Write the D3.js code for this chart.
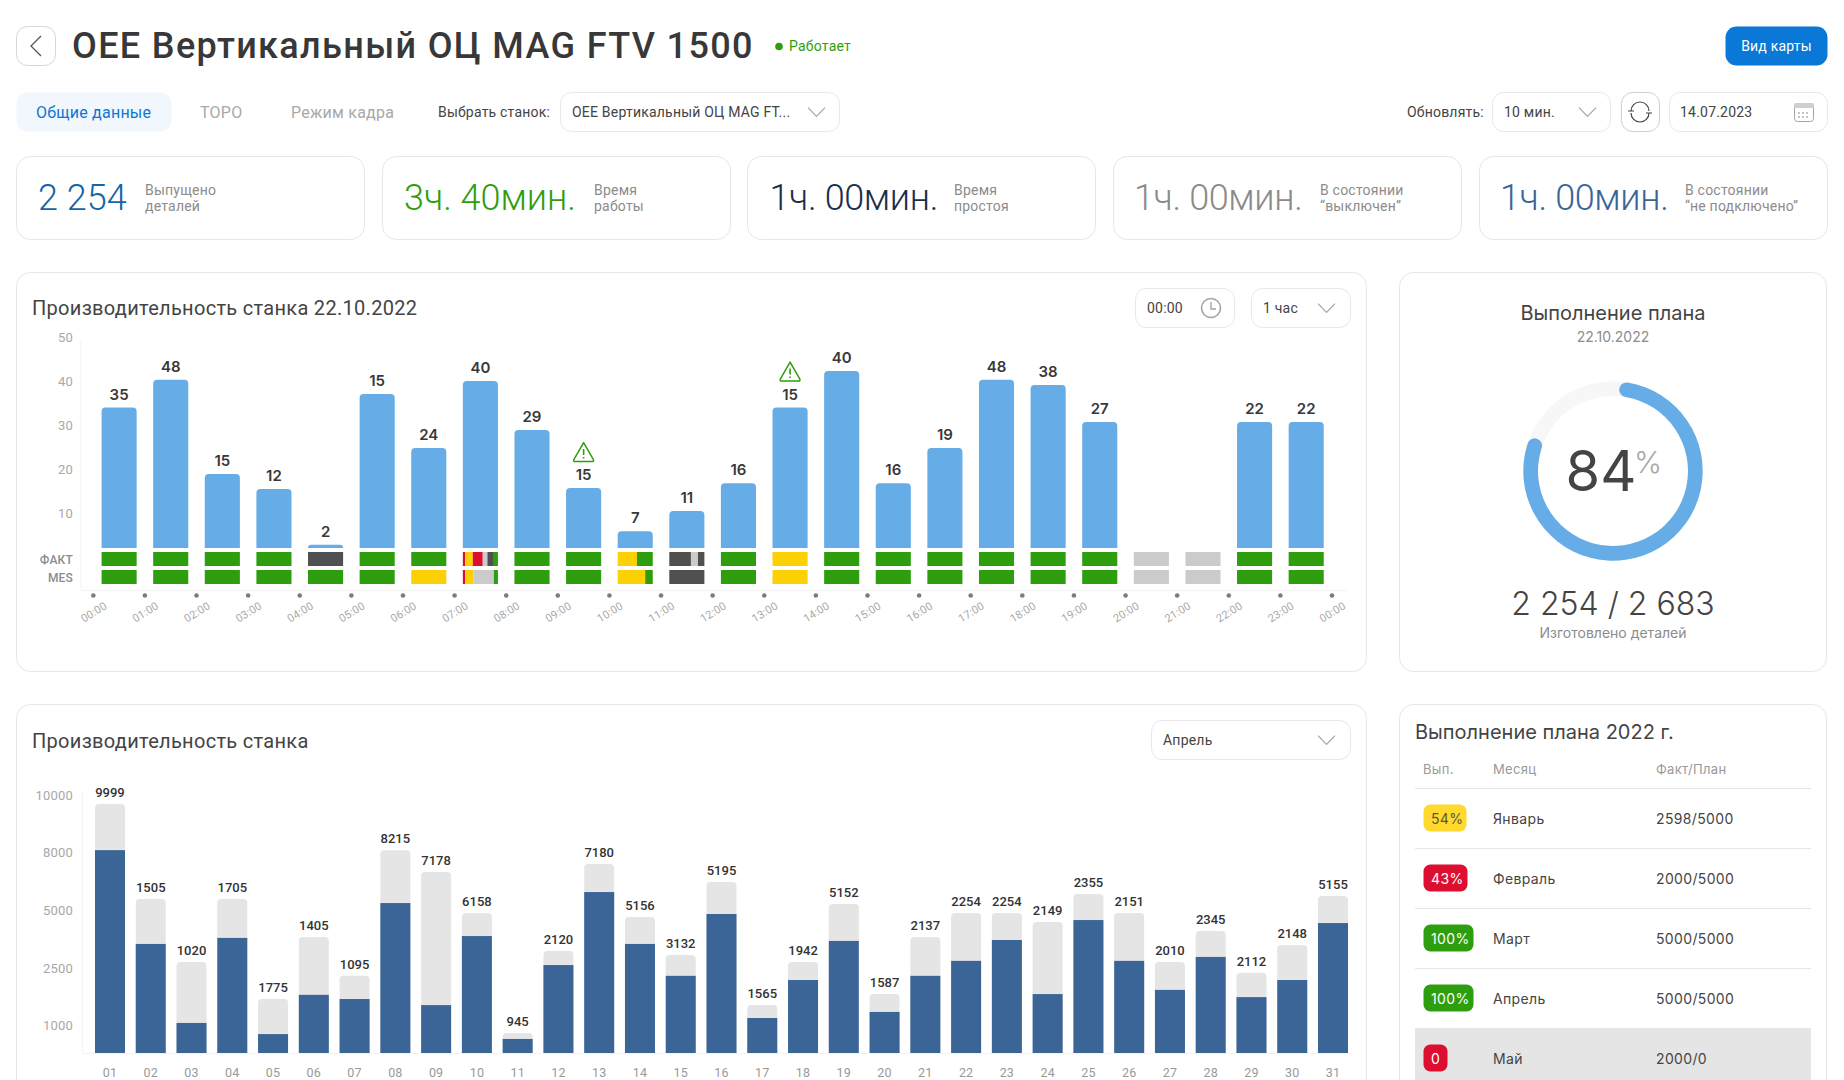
<!DOCTYPE html>
<html>
<head>
<meta charset="utf-8">
<script src="https://cdnjs.cloudflare.com/ajax/libs/d3/7.8.5/d3.min.js"></script>
<style>
    html, body { margin: 0; padding: 0; background: #fff; overflow: hidden; }
    svg { display: block; }
    text { font-family: "Roboto", sans-serif; letter-spacing: 0.015em; }
    text.inter { font-family: "Inter", sans-serif; letter-spacing: 0; }
    text.inter-wide { font-family: "Inter", sans-serif; letter-spacing: 0.025em; }
</style>
</head>
<body>
<div id="page"></div>
<script>
// Hourly chart data
var hours = ["00:00", "01:00", "02:00", "03:00", "04:00", "05:00", "06:00", "07:00", "08:00", "09:00", "10:00", "11:00",
    "12:00", "13:00", "14:00", "15:00", "16:00", "17:00", "18:00", "19:00", "20:00", "21:00", "22:00", "23:00"];
var hourTicks = hours.concat(["00:00 "]);
var hourValues = [34.2, 40.5, 19.1, 15.7, 3, 37.3, 25, 40.2, 29.1, 15.9, 6.1, 10.7, 17, 34.2, 42.5, 17, 25, 40.5, 39.3, 30.9, 0, 0, 30.9, 30.9];
var hourLabels = [35, 48, 15, 12, 2, 15, 24, 40, 29, 15, 7, 11, 16, 15, 40, 16, 19, 48, 38, 27, null, null, 22, 22];
var hourWarnings = ["09:00", "13:00"];
var hourTickValues = [10, 20, 30, 40, 50];

// Machine state strips: [state, minutes] per hour
var factStates = [
    [["run", 60]], [["run", 60]], [["run", 60]], [["run", 60]], [["stop", 60]], [["run", 60]], [["run", 60]],
    [["alarm", 4], ["wait", 13], ["alarm", 17], ["off", 8], ["stop", 11], ["run", 7]],
    [["run", 60]], [["run", 60]], [["wait", 33], ["run", 27]], [["stop", 37], ["off", 12], ["stop", 11]],
    [["run", 60]], [["wait", 60]], [["run", 60]], [["run", 60]], [["run", 60]], [["run", 60]], [["run", 60]], [["run", 60]],
    [["off", 60]], [["off", 60]], [["run", 60]], [["run", 60]]
];
var mesStates = [
    [["run", 60]], [["run", 60]], [["run", 60]], [["run", 60]], [["run", 60]], [["run", 60]], [["wait", 60]],
    [["alarm", 4], ["wait", 14], ["off", 35], ["run", 7]],
    [["run", 60]], [["run", 60]], [["wait", 47], ["run", 13]], [["stop", 60]],
    [["run", 60]], [["wait", 60]], [["run", 60]], [["run", 60]], [["run", 60]], [["run", 60]], [["run", 60]], [["run", 60]],
    [["off", 60]], [["off", 60]], [["run", 60]], [["run", 60]]
];
var stateNames = ["run", "wait", "alarm", "stop", "off"];
var stateColors = ["#2e9e0f", "#fbd004", "#dc0f31", "#505050", "#cbcbcb"];

// Monthly chart data
var days = ["01", "02", "03", "04", "05", "06", "07", "08", "09", "10", "11", "12", "13", "14", "15", "16",
    "17", "18", "19", "20", "21", "22", "23", "24", "25", "26", "27", "28", "29", "30", "31"];
var dayPlan = [9720, 5620, 2800, 5620, 1710, 3880, 2320, 8100, 7020, 4910, 740, 3280, 7430, 4740, 3100, 6500,
    1550, 2800, 5360, 1840, 3880, 4910, 4910, 4530, 5880, 4910, 2800, 4140, 2400, 3530, 5780];
var dayFact = [8100, 3580, 1080, 3840, 700, 1820, 1710, 5410, 1550, 3920, 520, 2670, 5980, 3580, 2320, 4870,
    1210, 2210, 3710, 1370, 2320, 2850, 3750, 1840, 4610, 2850, 1950, 3020, 1760, 2210, 4480];
var dayLabels = [9999, 1505, 1020, 1705, 1775, 1405, 1095, 8215, 7178, 6158, 945, 2120, 7180, 5156, 3132, 5195,
    1565, 1942, 5152, 1587, 2137, 2254, 2254, 2149, 2355, 2151, 2010, 2345, 2112, 2148, 5155];
var dayScaleStops = [0, 1000, 2500, 5000, 8000, 10000];

// Plan donut
var planPercent = 84;
var donutArcStart = 1.2;
var donutArcEnd = 81.4;

// KPI cards
var kpiValues = ["2 254", "3ч. 40мин.", "1ч. 00мин.", "1ч. 00мин.", "1ч. 00мин."];
var kpiCaptions = [["Выпущено", "деталей"], ["Время", "работы"], ["Время", "простоя"], ["В состоянии", "“выключен”"], ["В состоянии", "“не подключено”"]];

// Plan table
var planMonths = ["Январь", "Февраль", "Март", "Апрель", "Май"];
var planPercents = ["54%", "43%", "100%", "100%", "0"];
var planFacts = ["2598/5000", "2000/5000", "5000/5000", "5000/5000", "2000/0"];

var WIDTH = 1844, HEIGHT = 1080;
var BORDER = "#e6e6e6";
var DARK_TEXT = "#444";
var GREY_TEXT = "#8c8c8c";
var LIGHT_TEXT = "#a8a8a8";

var svg = d3.select("#page").append("svg")
    .attr("width", WIDTH)
    .attr("height", HEIGHT);

function box(x0, y0, x1, y1, r, stroke, fill) {
    return svg.append("rect")
        .attr("x", x0 + 0.5).attr("y", y0 + 0.5)
        .attr("width", x1 - x0 - 1).attr("height", y1 - y0 - 1)
        .attr("rx", r)
        .attr("fill", fill || "#fff")
        .attr("stroke", stroke || "none");
}

function label(x, y, str, size, color, weight, anchor) {
    return svg.append("text")
        .attr("x", x).attr("y", y)
        .attr("dy", "0.35em")
        .attr("font-size", size)
        .attr("font-weight", weight || 400)
        .attr("fill", color)
        .attr("text-anchor", anchor || "start")
        .text(str);
}

function chevron(x0, x1, yMid) {
    var h = (x1 - x0) * 0.52;
    svg.append("path")
        .attr("d", "M" + x0 + "," + (yMid - h / 2) + "L" + (x0 + x1) / 2 + "," + (yMid + h / 2) + "L" + x1 + "," + (yMid - h / 2))
        .attr("fill", "none")
        .attr("stroke", "#a5a5a5")
        .attr("stroke-width", 1.2);
}

function select(x0, x1, y0, y1, str, chevX0) {
    box(x0, y0, x1, y1, 11, "#e8e8e8");
    label(x0 + 12, (y0 + y1) / 2, str, 14, DARK_TEXT);
    chevron(chevX0, chevX0 + 17, (y0 + y1) / 2);
}

// Bar path with rounded top corners only
function roundTop(x, y, w, h, r) {
    r = Math.min(r, h);
    return "M" + x + "," + (y + h) + "V" + (y + r) + "Q" + x + "," + y + " " + (x + r) + "," + y +
        "H" + (x + w - r) + "Q" + (x + w) + "," + y + " " + (x + w) + "," + (y + r) + "V" + (y + h) + "Z";
}

function styleAxis(g, size, color) {
    g.select(".domain").remove();
    g.selectAll(".tick line").remove();
    g.selectAll(".tick text")
        .attr("font-size", size)
        .attr("font-family", "Roboto, sans-serif")
        .attr("fill", color);
}

/* Header */
box(16, 26, 56, 66, 11, "#d6d6d6");
svg.append("path")
    .attr("d", "M41,36L31,46L41,56")
    .attr("fill", "none").attr("stroke", "#555").attr("stroke-width", 1.3);
label(72, 45, "OEE Вертикальный ОЦ MAG FTV 1500", 36, "#383838", 500)
    .style("letter-spacing", "1.35px");
svg.append("circle").attr("cx", 779).attr("cy", 46.5).attr("r", 3.8).attr("fill", "#2e9e0f");
label(789, 46.5, "Работает", 14, "#2e9e0f");

box(1725, 26, 1828, 66, 11, null, "#0a78d6");
label(1776.5, 46, "Вид карты", 14, "#fff", 400, "middle");

box(16, 92, 172, 132, 11, null, "#f1f7fc");
label(36, 112, "Общие данные", 16, "#0a78d6");
label(200, 112, "ТОРО", 16, "#a8a8a8");
label(291, 112, "Режим кадра", 16, "#a8a8a8");
label(438, 112, "Выбрать станок:", 14, DARK_TEXT);
select(560, 840, 92, 132, "OEE Вертикальный ОЦ MAG FT...", 808);

label(1407, 112, "Обновлять:", 14, DARK_TEXT);
select(1492, 1611, 92, 132, "10 мин.", 1579);

box(1621, 92, 1660, 132, 11, "#cfcfcf");
svg.append("path")
    .attr("d", "M1631,111A9,9 0 0 1 1649,111M1649,113A9,9 0 0 1 1631,113M1628,111H1634M1646,113H1652")
    .attr("fill", "none").attr("stroke", "#444").attr("stroke-width", 1.2);

box(1669, 92, 1828, 132, 11, "#e8e8e8");
label(1680, 112, "14.07.2023", 14, DARK_TEXT);
box(1794, 103, 1814, 122, 3, "#a5a5a5");
svg.append("rect").attr("x", 1794).attr("y", 103).attr("width", 20).attr("height", 5).attr("rx", 2).attr("fill", "#cfcfcf");
svg.append("path").attr("d", "M1798,113H1810M1798,117H1810")
    .attr("stroke", "#8c8c8c").attr("stroke-dasharray", "2 2");

/* KPI cards */
var kpiLeft = [16, 382, 747, 1113, 1479];
var kpiNumX = [38, 404, 769.5, 1134, 1500];
var kpiCapX = [145, 594, 954, 1320, 1685];
var kpiColors = ["#1565a8", "#2e9e0f", "#1c2d4b", "#8a8a8a", "#3a6596"];
var kpiSpacing = ["0", "0", "-0.35px", "-0.35px", "-0.35px"];

kpiValues.forEach(function(str, i) {
    box(kpiLeft[i], 156, kpiLeft[i] + 349, 240, 14, BORDER);
    label(kpiNumX[i], 197.5, str, 36, kpiColors[i], 300).style("letter-spacing", kpiSpacing[i]);
    label(kpiCapX[i], 190.5, kpiCaptions[i][0], 14, GREY_TEXT);
    label(kpiCapX[i], 206.5, kpiCaptions[i][1], 14, GREY_TEXT);
});

/* Hourly productivity */
box(16, 272, 1367, 672, 14, BORDER);
label(32, 308, "Производительность станка 22.10.2022", 20, DARK_TEXT);

box(1135, 288, 1235, 328, 11, "#e8e8e8");
label(1147, 308, "00:00", 14, DARK_TEXT);
svg.append("circle").attr("cx", 1211).attr("cy", 308).attr("r", 9.5)
    .attr("fill", "none").attr("stroke", "#a5a5a5").attr("stroke-width", 1.6);
svg.append("path").attr("d", "M1211,302V309H1216").attr("fill", "none").attr("stroke", "#a5a5a5").attr("stroke-width", 1.4);
select(1251, 1351, 288, 328, "1 час", 1318);

var hourY = d3.scaleLinear().domain([0, 50]).range([558, 338]);
var hourX = d3.scaleBand().domain(hours).range([93.3, 1332]).paddingInner(0.32).paddingOuter(0.16);
var hourTickX = d3.scalePoint().domain(hourTicks).range([93.3, 1332]);
var hourBarBase = 548;
var stateColor = d3.scaleOrdinal().domain(stateNames).range(stateColors);

svg.append("path").attr("d", "M81,340V590.5H1347").attr("fill", "none").attr("stroke", "#f3f3f3");

svg.append("g")
    .attr("transform", "translate(73,-1)")
    .call(d3.axisLeft(hourY).tickValues(hourTickValues).tickSize(0).tickPadding(0))
    .call(styleAxis, 13, LIGHT_TEXT);

svg.append("g").selectAll("path")
    .data(hours.filter(function(h, i) { return hourValues[i] > 0; }))
    .enter().append("path")
    .attr("fill", "#66ade8")
    .attr("d", function(h) {
        var top = hourY(hourValues[hours.indexOf(h)]);
        return roundTop(hourX(h), top, hourX.bandwidth(), hourBarBase - top, 4);
    });

svg.append("g").selectAll("text")
    .data(hours.filter(function(h, i) { return hourLabels[i] !== null; }))
    .enter().append("text")
    .attr("class", "inter")
    .attr("x", function(h) { return hourX(h) + hourX.bandwidth() / 2; })
    .attr("y", function(h) { return hourY(hourValues[hours.indexOf(h)]) - 8; })
    .attr("text-anchor", "middle")
    .attr("font-size", 15)
    .attr("font-weight", 600)
    .attr("fill", "#383838")
    .text(function(h) { return hourLabels[hours.indexOf(h)]; });

hourWarnings.forEach(function(h) {
    var cx = hourX(h) + hourX.bandwidth() / 2;
    var top = hourY(hourValues[hours.indexOf(h)]) - 46;
    var g = svg.append("g").attr("transform", "translate(" + cx + "," + top + ")");
    g.append("path")
        .attr("d", "M0,0.5L9.8,17.5Q10.4,19.5 8.5,19.5H-8.5Q-10.4,19.5 -9.8,17.5Z")
        .attr("fill", "#fff").attr("stroke", "#2e9e0f").attr("stroke-width", 1.5).attr("stroke-linejoin", "round");
    g.append("path")
        .attr("d", "M0,7V13M0,15V16.5")
        .attr("stroke", "#2e9e0f").attr("stroke-width", 1.6);
});

function stateRow(rows, y0, y1) {
    rows.forEach(function(segments, i) {
        var h = hours[i];
        var total = d3.sum(segments, function(s) { return s[1]; });
        var x = d3.scaleLinear().domain([0, total]).range([hourX(h), hourX(h) + hourX.bandwidth()]);
        var sum = 0;
        segments.forEach(function(s) {
            svg.append("rect")
                .attr("x", x(sum))
                .attr("y", y0)
                .attr("width", x(sum + s[1]) - x(sum))
                .attr("height", y1 - y0)
                .attr("fill", stateColor(s[0]));
            sum += s[1];
        });
    });
}
stateRow(factStates, 552, 566);
stateRow(mesStates, 570, 584);
label(73, 559.5, "ФАКТ", 12, GREY_TEXT, 500, "end");
label(73, 577.5, "MES", 12, GREY_TEXT, 500, "end");

svg.append("g").selectAll("circle")
    .data(hourTicks)
    .enter().append("circle")
    .attr("cx", function(t) { return hourTickX(t); })
    .attr("cy", 595.5)
    .attr("r", 2.3)
    .attr("fill", "#7c7c7c");

svg.append("g")
    .attr("transform", "translate(0,612)")
    .call(d3.axisBottom(hourTickX).tickSize(0).tickPadding(0).tickFormat(function(t) { return t.trim(); }))
    .call(styleAxis, 11, LIGHT_TEXT)
    .selectAll(".tick text")
    .attr("y", 0).attr("dy", "0.35em")
    .attr("transform", "rotate(-32)");

/* Plan donut */
box(1399, 272, 1827, 672, 14, BORDER);
label(1613, 313, "Выполнение плана", 20, DARK_TEXT, 400, "middle").attr("class", "inter");
label(1613, 337, "22.10.2022", 14, GREY_TEXT, 400, "middle").attr("class", "inter");

var donutAngle = d3.scaleLinear().domain([0, 100]).range([0, 2 * Math.PI]);
var donutGroup = svg.append("g").attr("transform", "translate(1613,471)");
var donutArc = d3.arc().innerRadius(75).outerRadius(89.7);
donutGroup.append("path")
    .attr("fill", "#f7f7f7")
    .attr("d", donutArc({ startAngle: 0, endAngle: 2 * Math.PI }));
donutGroup.append("path")
    .attr("fill", "#66ade8")
    .attr("d", donutArc.cornerRadius(7.35)({ startAngle: donutAngle(donutArcStart), endAngle: donutAngle(donutArcEnd) }));

label(1601, 471, planPercent, 56, DARK_TEXT, 400, "middle").attr("class", "inter");
label(1648, 462, "%", 30, LIGHT_TEXT, 300, "middle").attr("class", "inter");
label(1613, 604, "2 254 / 2 683", 32, DARK_TEXT, 300, "middle").attr("class", "inter");
label(1613, 633, "Изготовлено деталей", 14, GREY_TEXT, 400, "middle").attr("class", "inter");

/* Monthly productivity */
box(16, 704, 1367, 1110, 14, BORDER);
label(32, 740.5, "Производительность станка", 20, DARK_TEXT);
select(1151, 1351, 720, 760, "Апрель", 1318);

var dayYTicks = dayScaleStops.slice(1);
var dayY = d3.scaleLinear().domain(dayScaleStops).range([1053, 1026, 969, 911, 853, 796]);
var dayX = d3.scaleBand().domain(days).range([89.6, 1353.4]).paddingInner(0.264).paddingOuter(0.132);

svg.append("path").attr("d", "M82.5,790V1053.5H1352").attr("fill", "none").attr("stroke", "#f3f3f3");

svg.append("g")
    .attr("transform", "translate(73,-1)")
    .call(d3.axisLeft(dayY).tickValues(dayYTicks).tickSize(0).tickPadding(0).tickFormat(d3.format("d")))
    .call(styleAxis, 13, LIGHT_TEXT);

svg.append("g").selectAll("path")
    .data(days)
    .enter().append("path")
    .attr("fill", "#e5e5e5")
    .attr("d", function(d, i) {
        return roundTop(dayX(d), dayY(dayPlan[i]), dayX.bandwidth(), dayY(0) - dayY(dayPlan[i]), 4);
    });

svg.append("g").selectAll("rect")
    .data(days)
    .enter().append("rect")
    .attr("fill", "#3a6596")
    .attr("x", function(d) { return dayX(d); })
    .attr("y", function(d, i) { return dayY(dayFact[i]); })
    .attr("width", dayX.bandwidth())
    .attr("height", function(d, i) { return dayY(0) - dayY(dayFact[i]); });

svg.append("g").selectAll("text")
    .data(days)
    .enter().append("text")
    .attr("x", function(d) { return dayX(d) + dayX.bandwidth() / 2; })
    .attr("y", function(d, i) { return dayY(dayPlan[i]) - 7; })
    .attr("text-anchor", "middle")
    .attr("font-size", 13)
    .attr("font-weight", 500)
    .attr("fill", "#333")
    .style("letter-spacing", "0")
    .text(function(d, i) { return dayLabels[i]; });

// Kept just above the page edge so the whole label stays visible
svg.append("g")
    .attr("transform", "translate(0,1072.5)")
    .call(d3.axisBottom(dayX).tickSize(0).tickPadding(0))
    .call(styleAxis, 12.5, "#999")
    .selectAll(".tick text")
    .attr("y", 0).attr("dy", "0.35em");

/* Plan table */
box(1399, 704, 1827, 1110, 14, BORDER);
label(1415, 732, "Выполнение плана 2022 г.", 20, DARK_TEXT).attr("class", "inter");
label(1423, 769, "Вып.", 13, "#999").attr("class", "inter-wide");
label(1493, 769, "Месяц", 13, "#999").attr("class", "inter-wide");
label(1656, 769, "Факт/План", 13, "#999").attr("class", "inter-wide");

var pillFill = ["#ffd92e", "#dc0f31", "#2e9e0f", "#2e9e0f", "#dc0f31"];
var pillText = ["#5a5540", "#fff", "#fff", "#fff", "#fff"];
var pillWidth = [44, 45, 51, 51, 25];
var rowY = d3.scaleBand().domain(planMonths).range([788, 1088]);

svg.append("rect").attr("x", 1415).attr("y", rowY("Май")).attr("width", 396).attr("height", 60).attr("fill", "#e5e5e5");
svg.append("g").selectAll("line")
    .data(planMonths.slice(0, 4))
    .enter().append("line")
    .attr("x1", 1415).attr("x2", 1811)
    .attr("y1", function(m) { return rowY(m) + 0.5; })
    .attr("y2", function(m) { return rowY(m) + 0.5; })
    .attr("stroke", "#e6e6e6");

planMonths.forEach(function(m, i) {
    var mid = rowY(m) + rowY.bandwidth() / 2;
    box(1423, mid - 14, 1423 + pillWidth[i], mid + 14, 7, null, pillFill[i]);
    label(1431, mid + 1, planPercents[i], 14, pillText[i]).attr("class", "inter-wide");
    label(1493, mid + 1, m, 14, DARK_TEXT).attr("class", "inter-wide");
    label(1656, mid + 1, planFacts[i], 14, DARK_TEXT).attr("class", "inter-wide");
});
</script>
</body>
</html>
